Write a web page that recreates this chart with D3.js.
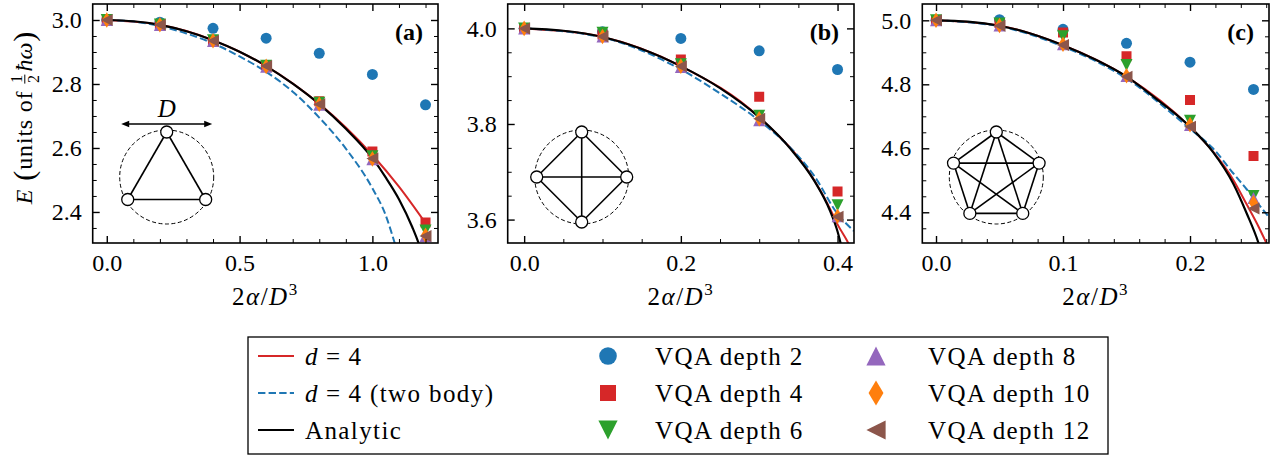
<!DOCTYPE html>
<html>
<head>
<meta charset="utf-8">
<script src="https://cdn.jsdelivr.net/npm/d3@7"></script>
<style>
  html, body { margin: 0; padding: 0; background: #ffffff; }
  svg text { font-family: "Liberation Serif", "Times New Roman", serif; fill: #000; }
</style>
</head>
<body>
<svg id="fig" width="1272" height="455"></svg>
<script>
// ---------------- Panel (a): three particles ----------------
const xA = [0, 0.2, 0.4, 0.6, 0.8, 1.0, 1.2];
const aDepth2  = [3.0, 2.993, 2.974, 2.943, 2.896, 2.830, 2.735];
const aDepth4  = [3.0, 2.986, 2.937, 2.859, 2.746, 2.589, 2.367];
const aDepth6  = [3.0, 2.986, 2.937, 2.857, 2.741, 2.574, 2.342];
const aDepth8  = [3.0, 2.984, 2.934, 2.854, 2.735, 2.565, 2.325];
const aDepth10 = [3.0, 2.985, 2.935, 2.855, 2.737, 2.566, 2.327];
const aDepth12 = [3.0, 2.985, 2.935, 2.856, 2.737, 2.567, 2.325];
const aAnalyticX = [0, 0.1, 0.2, 0.3, 0.4, 0.5, 0.6, 0.7, 0.8, 0.9, 1.0, 1.05, 1.1, 1.15, 1.175, 1.2];
const aAnalyticY = [3.0, 2.996, 2.985, 2.965, 2.937, 2.901, 2.856, 2.801, 2.737, 2.660, 2.568, 2.508, 2.440, 2.353, 2.300, 2.23];
const aTruncX = [0, 0.2, 0.4, 0.6, 0.8, 0.9, 1.0, 1.1, 1.2];
const aTruncY = [3.0, 2.985, 2.937, 2.856, 2.738, 2.664, 2.578, 2.479, 2.365];
const aTwoBodyX = [0, 0.1, 0.2, 0.3, 0.4, 0.5, 0.6, 0.7, 0.8, 0.9, 1.0, 1.05, 1.085, 1.12];
const aTwoBodyY = [3.0, 2.995, 2.981, 2.958, 2.927, 2.886, 2.838, 2.776, 2.695, 2.598, 2.474, 2.390, 2.300, 2.20];
const aXTicks = [0.0, 0.5, 1.0];
const aXMinor = [0.1, 0.2, 0.3, 0.4, 0.6, 0.7, 0.8, 0.9, 1.1, 1.2];
const aYTicks = [2.4, 2.6, 2.8, 3.0];
const aYMinor = [2.35, 2.45, 2.5, 2.55, 2.65, 2.7, 2.75, 2.85, 2.9, 2.95];

// ---------------- Panel (b): four particles ----------------
const xB = [0, 0.1, 0.2, 0.3, 0.4];
const bDepth2  = [4.0, 3.993, 3.979, 3.953, 3.914];
const bDepth4  = [4.0, 3.987, 3.935, 3.857, 3.659];
const bDepth6  = [4.0, 3.991, 3.925, 3.817, 3.630];
const bDepth8  = [4.0, 3.983, 3.919, 3.808, 3.607];
const bDepth10 = [4.0, 3.983, 3.921, 3.811, 3.607];
const bDepth12 = [4.0, 3.983, 3.921, 3.811, 3.606];
const bAnalyticX = [0, 0.05, 0.1, 0.15, 0.2, 0.25, 0.3, 0.34, 0.37, 0.39, 0.4, 0.404, 0.41];
const bAnalyticY = [4.0, 3.995, 3.982, 3.957, 3.921, 3.875, 3.814, 3.748, 3.682, 3.620, 3.575, 3.550, 3.50];
const bTruncX = [0, 0.1, 0.2, 0.3, 0.37, 0.38, 0.39, 0.4, 0.414, 0.42];
const bTruncY = [4.0, 3.982, 3.921, 3.814, 3.683, 3.655, 3.624, 3.590, 3.550, 3.530];
const bTwoBodyX = [0, 0.1, 0.2, 0.25, 0.3, 0.34, 0.37, 0.4, 0.421];
const bTwoBodyY = [4.0, 3.981, 3.914, 3.864, 3.807, 3.750, 3.692, 3.612, 3.576];
const bXTicks = [0.0, 0.2, 0.4];
const bXMinor = [0.05, 0.1, 0.15, 0.25, 0.3, 0.35];
const bYTicks = [3.6, 3.8, 4.0];
const bYMinor = [3.65, 3.7, 3.75, 3.85, 3.9, 3.95];

// ---------------- Panel (c): five particles ----------------
const xC = [0, 0.05, 0.1, 0.15, 0.2, 0.25];
const cDepth2  = [5.0, 5.002, 4.972, 4.928, 4.869, 4.784];
const cDepth4  = [5.0, 4.992, 4.962, 4.888, 4.751, 4.576];
const cDepth6  = [5.0, 4.990, 4.950, 4.860, 4.686, 4.451];
const cDepth8  = [5.0, 4.984, 4.925, 4.826, 4.673, 4.445];
const cDepth10 = [5.0, 4.984, 4.925, 4.827, 4.674, 4.430];
const cDepth12 = [5.0, 4.983, 4.923, 4.824, 4.667, 4.412];
const cAnalyticX = [0, 0.025, 0.05, 0.075, 0.1, 0.125, 0.15, 0.175, 0.2, 0.218, 0.234, 0.2446, 0.254, 0.258];
const cAnalyticY = [5.0, 4.996, 4.983, 4.958, 4.922, 4.878, 4.824, 4.750, 4.667, 4.589, 4.490, 4.397, 4.303, 4.25];
const cTruncX = [0, 0.05, 0.1, 0.15, 0.2, 0.218, 0.234, 0.2446, 0.254, 0.26, 0.264];
const cTruncY = [5.0, 4.983, 4.922, 4.824, 4.667, 4.590, 4.502, 4.425, 4.355, 4.305, 4.27];
const cTwoBodyX = [0, 0.05, 0.1, 0.15, 0.2, 0.218, 0.234, 0.2446, 0.25, 0.263];
const cTwoBodyY = [5.0, 4.981, 4.918, 4.818, 4.661, 4.600, 4.522, 4.472, 4.445, 4.381];
const cXTicks = [0.0, 0.1, 0.2];
const cXMinor = [0.02, 0.04, 0.06, 0.08, 0.12, 0.14, 0.16, 0.18, 0.22, 0.24, 0.26];
const cYTicks = [4.4, 4.6, 4.8, 5.0];
const cYMinor = [4.35, 4.45, 4.5, 4.55, 4.65, 4.7, 4.75, 4.85, 4.9, 4.95];

// Ring geometries (node angles in degrees) for the inset sketches
const ringTriangle = [90, 210, 330];
const ringSquare   = [90, 180, 270, 0];
const ringPentagon = [90, 162, 234, 306, 18];

// Legend entries
const lineLabels  = ["d = 4", "d = 4 (two body)", "Analytic"];
const depthLabels = ["VQA depth 2", "VQA depth 4", "VQA depth 6", "VQA depth 8", "VQA depth 10", "VQA depth 12"];

// ---------------- styling ----------------
const C_BLUE = "#1f77b4", C_RED = "#d62728", C_GREEN = "#2ca02c",
      C_PURPLE = "#9467bd", C_ORANGE = "#ff7f0e", C_BROWN = "#8c564b";
const FS = 24;

// matplotlib-like marker shapes (size = nominal marker size in px)
const mCircle  = { draw(c, m) { const r = m / 2; c.moveTo(r, 0); c.arc(0, 0, r, 0, 2 * Math.PI); c.closePath(); } };
const mSquare  = { draw(c, m) { const h = m / 2; c.rect(-h, -h, m, m); } };
const mTriDown = { draw(c, m) { const h = m / 2; c.moveTo(0, h); c.lineTo(h, -h); c.lineTo(-h, -h); c.closePath(); } };
const mTriUp   = { draw(c, m) { const h = m / 2; c.moveTo(0, -h); c.lineTo(h, h); c.lineTo(-h, h); c.closePath(); } };
const mThinDia = { draw(c, m) { const h = 0.707 * m, w = 0.6 * h; c.moveTo(0, -h); c.lineTo(w, 0); c.lineTo(0, h); c.lineTo(-w, 0); c.closePath(); } };
const mTriLeft = { draw(c, m) { const h = m / 2; c.moveTo(-h, 0); c.lineTo(h, -h); c.lineTo(h, h); c.closePath(); } };

const depthStyles = [
  { shape: mCircle,  color: C_BLUE,   size: 11 },
  { shape: mSquare,  color: C_RED,    size: 10 },
  { shape: mTriDown, color: C_GREEN,  size: 12 },
  { shape: mTriUp,   color: C_PURPLE, size: 12 },
  { shape: mThinDia, color: C_ORANGE, size: 11 },
  { shape: mTriLeft, color: C_BROWN,  size: 12 }
];
const lineStyles = [
  { color: C_RED,   dash: null,      width: 2.0 },
  { color: C_BLUE,  dash: "7.4,3.2", width: 2.0 },
  { color: "#000",  dash: null,      width: 2.2 }
];

const TOP = 4, BOTTOM = 243;
const panels = [
  { id: "a", left: 92.7, right: 438, xDomain: [-0.053, 1.247], yDomain: [2.303, 3.05],
    xs: xA, depths: [aDepth2, aDepth4, aDepth6, aDepth8, aDepth10, aDepth12],
    curves: [[aTruncX, aTruncY], [aTwoBodyX, aTwoBodyY], [aAnalyticX, aAnalyticY]],
    xTicks: aXTicks, xMinor: aXMinor, yTicks: aYTicks, yMinor: aYMinor, ring: ringTriangle, arrow: true },
  { id: "b", left: 507.7, right: 854, xDomain: [-0.021, 0.421], yDomain: [3.551, 4.051],
    xs: xB, depths: [bDepth2, bDepth4, bDepth6, bDepth8, bDepth10, bDepth12],
    curves: [[bTruncX, bTruncY], [bTwoBodyX, bTwoBodyY], [bAnalyticX, bAnalyticY]],
    xTicks: bXTicks, xMinor: bXMinor, yTicks: bYTicks, yMinor: bYMinor, ring: ringSquare, arrow: false },
  { id: "c", left: 922.3, right: 1269, xDomain: [-0.0108, 0.2622], yDomain: [4.304, 5.051],
    xs: xC, depths: [cDepth2, cDepth4, cDepth6, cDepth8, cDepth10, cDepth12],
    curves: [[cTruncX, cTruncY], [cTwoBodyX, cTwoBodyY], [cAnalyticX, cAnalyticY]],
    xTicks: cXTicks, xMinor: cXMinor, yTicks: cYTicks, yMinor: cYMinor, ring: ringPentagon, arrow: false }
];

const svg = d3.select("#fig");
const defs = svg.append("defs");
const fmt = d3.format(".1f");

function styleAxis(g, major) {
  g.select(".domain").remove();
  g.selectAll(".tick line").attr("stroke", "#000").attr("stroke-width", major ? 1.4 : 1.0);
  g.selectAll(".tick text").attr("font-size", FS).attr("font-family", "Liberation Serif, serif").attr("fill", "#000");
}

panels.forEach(p => {
  const x = d3.scaleLinear().domain(p.xDomain).range([p.left, p.right]);
  const y = d3.scaleLinear().domain(p.yDomain).range([BOTTOM, TOP]);
  const g = svg.append("g").attr("class", "panel-" + p.id);

  defs.append("clipPath").attr("id", "clip-" + p.id)
    .append("rect").attr("x", p.left).attr("y", TOP)
    .attr("width", p.right - p.left).attr("height", BOTTOM - TOP);

  // inset ring sketch
  const ins = g.append("g").attr("transform", `translate(${p.left + 74},${TOP + 173})`);
  const R = 45;
  const nodes = p.ring.map(a => [R * Math.cos(a * Math.PI / 180), -R * Math.sin(a * Math.PI / 180)]);
  ins.append("circle").attr("r", 47).attr("fill", "none").attr("stroke", "#000")
    .attr("stroke-width", 1).attr("stroke-dasharray", "4,2.5");
  const edges = [];
  for (let i = 0; i < nodes.length; i++)
    for (let j = i + 1; j < nodes.length; j++) edges.push([nodes[i], nodes[j]]);
  ins.selectAll("line.edge").data(edges).join("line").attr("class", "edge")
    .attr("x1", d => d[0][0]).attr("y1", d => d[0][1])
    .attr("x2", d => d[1][0]).attr("y2", d => d[1][1])
    .attr("stroke", "#000").attr("stroke-width", 1.6);
  ins.selectAll("circle.node").data(nodes).join("circle").attr("class", "node")
    .attr("cx", d => d[0]).attr("cy", d => d[1]).attr("r", 6)
    .attr("fill", "#fff").attr("stroke", "#000").attr("stroke-width", 1.3);
  if (p.arrow) {
    const ay = -53, ax = 45.5;
    ins.append("line").attr("x1", -ax + 5).attr("x2", ax - 5).attr("y1", ay).attr("y2", ay)
      .attr("stroke", "#000").attr("stroke-width", 1.6);
    ins.append("path").attr("d", `M${-ax},${ay}l8,-3.2v6.4z M${ax},${ay}l-8,-3.2v6.4z`).attr("fill", "#000");
    ins.append("text").attr("x", 0).attr("y", ay - 7).attr("text-anchor", "middle")
      .attr("font-size", 25).attr("font-style", "italic").text("D");
  }

  // model curves
  const line = d3.line().x(d => x(d[0])).y(d => y(d[1])).curve(d3.curveMonotoneX);
  const cg = g.append("g").attr("clip-path", `url(#clip-${p.id})`);
  p.curves.forEach((cv, k) => {
    const pts = cv[0].map((xv, i) => [xv, cv[1][i]]);
    const st = lineStyles[k];
    cg.append("path").attr("d", line(pts)).attr("fill", "none")
      .attr("stroke", st.color).attr("stroke-width", st.width)
      .attr("stroke-dasharray", st.dash);
  });

  // VQA results
  p.depths.forEach((vals, k) => {
    const st = depthStyles[k];
    const sym = d3.symbol().type(st.shape).size(st.size);
    cg.selectAll(null).data(vals).join("path")
      .attr("d", sym)
      .attr("transform", (v, i) => `translate(${x(p.xs[i])},${y(v)})`)
      .attr("fill", st.color);
  });

  // axes with inward ticks on all four sides
  const ax = g.append("g");
  ax.append("g").attr("transform", `translate(0,${BOTTOM})`)
    .call(d3.axisBottom(x).tickValues(p.xTicks).tickFormat(fmt).tickSize(-7).tickPadding(11))
    .call(s => styleAxis(s, true));
  ax.append("g").attr("transform", `translate(0,${BOTTOM})`)
    .call(d3.axisBottom(x).tickValues(p.xMinor).tickFormat("").tickSize(-4))
    .call(s => styleAxis(s, false));
  ax.append("g").attr("transform", `translate(0,${TOP})`)
    .call(d3.axisTop(x).tickValues(p.xTicks).tickFormat("").tickSize(-7))
    .call(s => styleAxis(s, true));
  ax.append("g").attr("transform", `translate(0,${TOP})`)
    .call(d3.axisTop(x).tickValues(p.xMinor).tickFormat("").tickSize(-4))
    .call(s => styleAxis(s, false));
  ax.append("g").attr("transform", `translate(${p.left},0)`)
    .call(d3.axisLeft(y).tickValues(p.yTicks).tickFormat(fmt).tickSize(-7).tickPadding(11))
    .call(s => styleAxis(s, true));
  ax.append("g").attr("transform", `translate(${p.left},0)`)
    .call(d3.axisLeft(y).tickValues(p.yMinor).tickFormat("").tickSize(-4))
    .call(s => styleAxis(s, false));
  ax.append("g").attr("transform", `translate(${p.right},0)`)
    .call(d3.axisRight(y).tickValues(p.yTicks).tickFormat("").tickSize(-7))
    .call(s => styleAxis(s, true));
  ax.append("g").attr("transform", `translate(${p.right},0)`)
    .call(d3.axisRight(y).tickValues(p.yMinor).tickFormat("").tickSize(-4))
    .call(s => styleAxis(s, false));

  g.append("rect").attr("x", p.left).attr("y", TOP)
    .attr("width", p.right - p.left).attr("height", BOTTOM - TOP)
    .attr("fill", "none").attr("stroke", "#000").attr("stroke-width", 1.6);

  // panel tag
  g.append("text").attr("x", p.right - 15).attr("y", 40).attr("text-anchor", "end")
    .attr("font-size", FS).attr("font-weight", "bold").text(`(${p.id})`);

  // x-axis title: 2α/D³
  const xt = g.append("text").attr("x", (p.left + p.right) / 2).attr("y", 305)
    .attr("text-anchor", "middle").attr("font-size", 25).attr("letter-spacing", 1.5);
  xt.append("tspan").text("2");
  xt.append("tspan").attr("font-style", "italic").text("α");
  xt.append("tspan").text("/");
  xt.append("tspan").attr("font-style", "italic").text("D");
  xt.append("tspan").attr("font-size", 17).attr("dy", -10).text("3");
});

// y-axis title: E (units of ½ħω), rotated, built from measured pieces
(function () {
  const g = svg.append("g");
  const inner = g.append("g");
  let cx = 0;
  function piece(t, opt = {}) {
    const el = inner.append("text").attr("x", cx).attr("y", opt.dy || 0)
      .attr("font-size", opt.size || FS).attr("font-style", opt.italic ? "italic" : null)
      .attr("letter-spacing", opt.ls || null).text(t);
    cx += el.node().getComputedTextLength() + (opt.gap || 0);
    return el;
  }
  piece("E", { italic: true, gap: 9 });
  piece("(", { size: 30, dy: 2, gap: 1 });
  piece("units of", { gap: 7, ls: 0.8 });
  const fw = 9;
  inner.append("text").attr("x", cx + fw / 2).attr("y", -10).attr("text-anchor", "middle").attr("font-size", 16).text("1");
  inner.append("text").attr("x", cx + fw / 2).attr("y", 6.5).attr("text-anchor", "middle").attr("font-size", 16).text("2");
  inner.append("line").attr("x1", cx).attr("x2", cx + fw).attr("y1", -7.2).attr("y2", -7.2)
    .attr("stroke", "#000").attr("stroke-width", 1);
  cx += fw + 3;
  piece("ħω", { italic: true, gap: 1 });
  piece(")", { size: 30, dy: 2 });
  inner.attr("transform", `translate(${-cx / 2},0)`);
  g.attr("transform", "translate(32,118) rotate(-90)");
})();

// ---------------- legend ----------------
(function () {
  const LFS = 25, LS = 1.4;
  const lg = svg.append("g");
  lg.append("rect").attr("x", 248).attr("y", 337).attr("width", 860).attr("height", 117)
    .attr("fill", "#fff").attr("stroke", "#000").attr("stroke-width", 1.3);
  const rows = [356, 393, 430];
  lineLabels.forEach((lab, i) => {
    const st = lineStyles[i];
    lg.append("line").attr("x1", 258).attr("x2", 294).attr("y1", rows[i]).attr("y2", rows[i])
      .attr("stroke", st.color).attr("stroke-width", st.width).attr("stroke-dasharray", st.dash);
    const t = lg.append("text").attr("x", 305).attr("y", rows[i] + 8.5)
      .attr("font-size", LFS).attr("letter-spacing", LS);
    if (lab.startsWith("d")) {
      // math-style spacing around the equals sign
      const rest = lab.slice(1).trim();          // "= 4 ..." part
      const after = rest.slice(1).trim();        // "4 ..." part
      t.append("tspan").attr("font-style", "italic").text("d");
      t.append("tspan").attr("dx", 7).text("=");
      t.append("tspan").attr("dx", 7).text(after);
    } else t.text(lab);
  });
  depthLabels.forEach((lab, k) => {
    const col = Math.floor(k / 3), row = k % 3;
    const mx = col === 0 ? 608 : 876, tx = col === 0 ? 655 : 928;
    const st = depthStyles[k];
    lg.append("path").attr("d", d3.symbol().type(st.shape).size(st.size * 1.6)())
      .attr("transform", `translate(${mx},${rows[row]})`).attr("fill", st.color);
    lg.append("text").attr("x", tx).attr("y", rows[row] + 8.5)
      .attr("font-size", LFS).attr("letter-spacing", LS).text(lab);
  });
})();
</script>
</body>
</html>
